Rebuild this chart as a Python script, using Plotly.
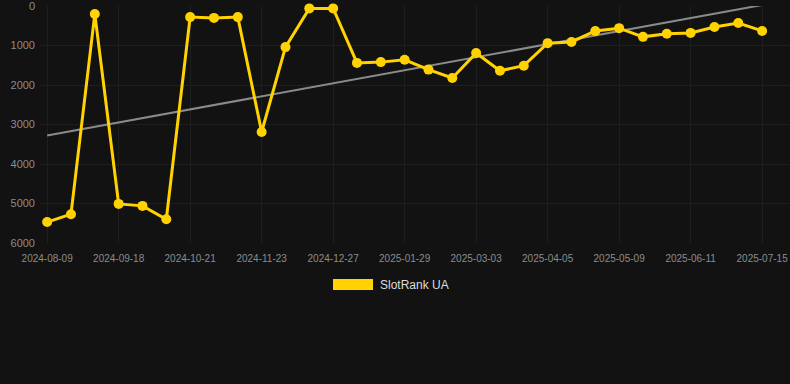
import numpy as np
import plotly.graph_objects as go

dates = ["2024-08-09", "2024-08-22", "2024-09-05", "2024-09-18", "2024-09-29", "2024-10-10",
         "2024-10-21", "2024-11-01", "2024-11-12", "2024-11-23", "2024-12-04", "2024-12-15",
         "2024-12-27", "2025-01-07", "2025-01-18", "2025-01-29", "2025-02-09", "2025-02-20",
         "2025-03-03", "2025-03-14", "2025-03-25", "2025-04-05", "2025-04-16", "2025-04-27",
         "2025-05-09", "2025-05-20", "2025-05-31", "2025-06-11", "2025-06-22", "2025-07-03",
         "2025-07-15"]
rank = [5470, 5270, 200, 5010, 5060, 5400, 280, 300, 280, 3190, 1040, 60, 60, 1440, 1420,
        1360, 1610, 1820, 1190, 1640, 1510, 940, 910, 630, 560, 780, 700, 680, 530, 430, 630]
tick_labels = dates[::3]
y_ticks = [0, 1000, 2000, 3000, 4000, 5000, 6000]
series_name = "SlotRank UA"

idx = np.arange(len(dates))
slope, intercept = np.polyfit(idx, rank, 1)
trend = intercept + slope * idx

fig = go.Figure()
fig.add_trace(go.Scatter(x=idx, y=trend, mode="lines",
                         line=dict(color="#8a8a8a", width=2), showlegend=False,
                         hoverinfo="skip", cliponaxis=False))
fig.add_trace(go.Scatter(x=idx, y=rank, mode="lines+markers", name=series_name,
                         line=dict(color="#FFD200", width=3),
                         marker=dict(color="#FFD200", size=10), showlegend=False,
                         cliponaxis=False))

fig.update_layout(
    width=790, height=384,
    paper_bgcolor="#121212", plot_bgcolor="#121212",
    margin=dict(l=40, r=0, t=6, b=141),
    font=dict(family="Arial, Liberation Sans, sans-serif", color="#8c8c8c"),
    xaxis=dict(range=[-0.3, 31.17], tickvals=idx[::3], ticktext=tick_labels,
               showgrid=True, gridcolor="#1e1e1e", zeroline=False, showline=False,
               tickfont=dict(size=10, color="#8c8c8c"), ticks="", ticklabelstandoff=8,
               ticklabeloverflow="allow"),
    yaxis=dict(range=[6000, -1], tickvals=y_ticks, showgrid=True, gridcolor="#1e1e1e",
               zeroline=False, showline=False, tickfont=dict(size=11, color="#8c8c8c"),
               ticks="", ticklabelstandoff=4, ticklabeloverflow="allow"),
    showlegend=False,
)
fig.add_shape(type="rect", xref="paper", yref="paper",
              x0=(333 - 40) / 750, x1=(373 - 40) / 750,
              y0=(384 - 141 - 290) / 237, y1=(384 - 141 - 279) / 237,
              fillcolor="#FFD200", line=dict(width=0))
fig.add_annotation(xref="paper", yref="paper", x=(378 - 40) / 750, y=(384 - 141 - 285) / 237,
                   text=series_name, showarrow=False, xanchor="left", yanchor="middle",
                   font=dict(size=12, color="#dddddd"))
fig.write_html("out.html", config={"displayModeBar": False},
               post_script="document.body.style.margin='0';document.body.style.overflow='hidden';document.body.style.background='#121212';")
